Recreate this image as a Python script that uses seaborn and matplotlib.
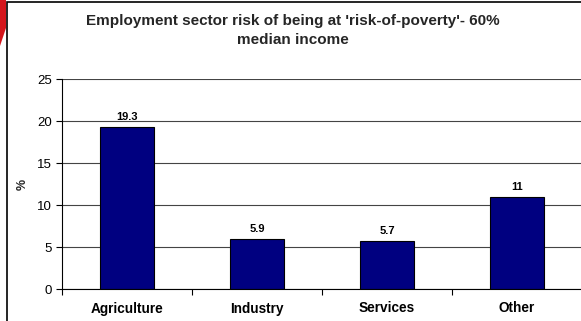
import matplotlib
matplotlib.use("Agg")
import matplotlib.pyplot as plt
import matplotlib.patches as mpatches
from matplotlib.transforms import IdentityTransform
from matplotlib.ticker import FixedLocator
import seaborn as sns
import pandas as pd

categories = ["Agriculture", "Industry", "Services", "Other"]
risk_pct = [19.3, 5.9, 5.7, 11]
value_labels = ["19.3", "5.9", "5.7", "11"]
y_ticks = [0, 5, 10, 15, 20, 25]

sns.set_theme(style="white")
plt.rcParams["font.family"] = ["Liberation Sans", "DejaVu Sans"]

W, H = 581, 321
fig = plt.figure(figsize=(W / 100, H / 100), dpi=100)

# red slide decoration in the upper-left corner
red = mpatches.Polygon([(0, H), (6, H), (6, H - 28), (0, H - 46)],
                       closed=True, facecolor="#d4161c", edgecolor="none")
red.set_transform(IdentityTransform())
fig.patches.append(red)

# chart frame
frame = mpatches.Rectangle((6.5 / W, -0.05), 1.1, 1 - 1.5 / H + 0.05,
                           transform=fig.transFigure, facecolor="none",
                           edgecolor="black", linewidth=1.2)
fig.patches.append(frame)

ax = fig.add_axes([62 / W, 1 - 289 / H, 520 / W, 210 / H])
df = pd.DataFrame({"sector": categories, "pct": risk_pct})
sns.barplot(data=df, x="sector", y="pct", ax=ax, color="#000080",
            saturation=1, width=0.41, edgecolor="black", linewidth=0.8)

ax.set_ylim(0, 25)
ax.set_xlim(-0.5, 3.5)
ax.set_yticks(y_ticks)
ax.set_yticklabels([str(t) for t in y_ticks], fontsize=9.5)
ax.yaxis.grid(True, color="#444444", linewidth=0.8)
ax.set_axisbelow(True)

ax.set_xticks(range(len(categories)))
ax.set_xticklabels(categories, fontsize=9.8, fontweight="bold")
ax.xaxis.set_minor_locator(FixedLocator([-0.5, 0.5, 1.5, 2.5, 3.5]))
ax.tick_params(axis="x", which="major", length=0, pad=9, colors="black")
ax.tick_params(axis="x", which="minor", length=4, width=0.8, color="black",
               direction="out", bottom=True)
ax.tick_params(axis="y", length=4.5, width=0.8, color="black", direction="out",
               left=True, pad=2.5, labelcolor="black")

for s in ["top", "right"]:
    ax.spines[s].set_visible(False)
for s in ["left", "bottom"]:
    ax.spines[s].set_color("black")
    ax.spines[s].set_linewidth(0.8)

for i, (v, lab) in enumerate(zip(risk_pct, value_labels)):
    ax.text(i, v + 0.6, lab, ha="center", va="bottom", fontsize=8,
            fontweight="bold", color="black")

ax.set_xlabel("")
ax.set_ylabel("%", fontsize=9, fontweight="bold")
ax.yaxis.set_label_coords(-0.063, 0.5)

fig.text(293 / W, 1 - 30.5 / H,
         "Employment sector risk of being at 'risk-of-poverty'- 60%\nmedian income",
         ha="center", va="center", fontsize=11, fontweight="bold",
         linespacing=1.45)

fig.savefig("out.png", dpi=100)
